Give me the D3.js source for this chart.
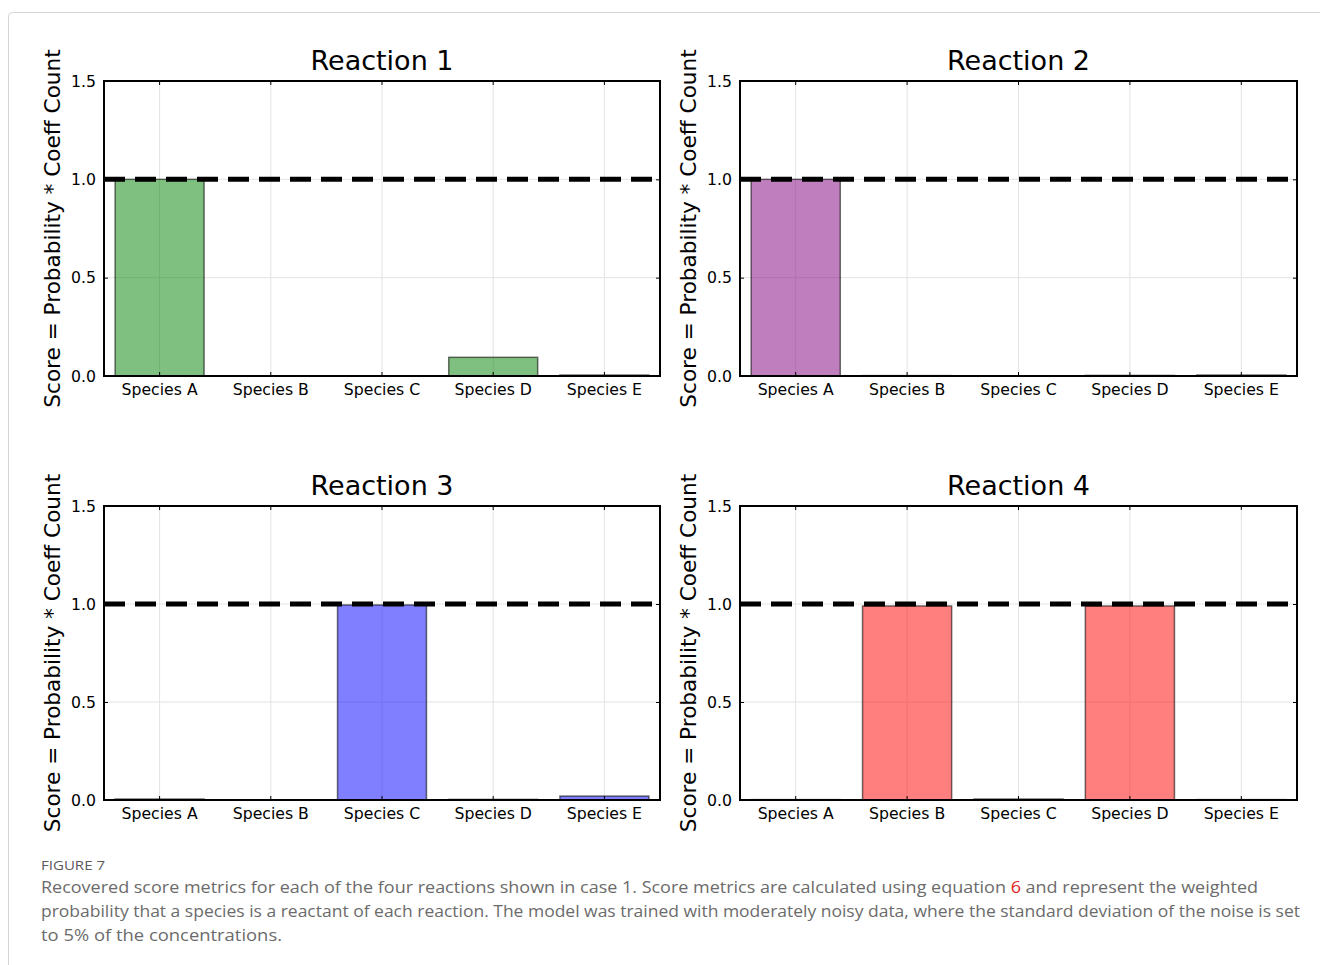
<!DOCTYPE html>
<meta charset="utf-8">
<script src="https://d3js.org/d3.v7.min.js"></script>
<style>
  body { margin: 0; background: #fff; }
</style>
<div id="figure"></div>
<script>
  // data
  var species = ["Species A", "Species B", "Species C", "Species D", "Species E"];
  var reactionNames = ["Reaction 1", "Reaction 2", "Reaction 3", "Reaction 4"];
  var reaction1 = [1.0, 0.0, 0.0, 0.095, 0.005];
  var reaction2 = [1.0, 0.002, 0.0, 0.003, 0.005];
  var reaction3 = [0.005, 0.0, 0.995, 0.003, 0.02];
  var reaction4 = [0.002, 0.99, 0.005, 0.99, 0.002];
  var barColors = ["#008000", "#800080", "#0000ff", "#ff0000"];
  var yTicks = [0.0, 0.5, 1.0, 1.5];
  var threshold = 1.0;
  var yLabel = "Score = Probability * Coeff Count";

  var allValues = [reaction1, reaction2, reaction3, reaction4];

  var W = 1320, H = 965;
  var svg = d3.select("#figure").append("svg")
    .attr("width", W)
    .attr("height", H)
    .style("font-family", "'DejaVu Sans', sans-serif");

  // page frame
  svg.append("rect")
    .attr("x", 8.5).attr("y", 12.5)
    .attr("width", W + 20).attr("height", H + 20)
    .attr("rx", 4)
    .style("fill", "none")
    .style("stroke", "#d4d4d4");

  // panel positions (left, top, width, height)
  var panels = [
    { x: 104, y: 81, w: 556, h: 295 },
    { x: 740, y: 81, w: 557, h: 295 },
    { x: 104, y: 506, w: 556, h: 294 },
    { x: 740, y: 506, w: 557, h: 294 }
  ];

  panels.forEach(function (p, i) {
    var g = svg.append("g")
      .attr("transform", "translate(" + p.x + "," + p.y + ")");

    var x = d3.scaleBand()
      .domain(species)
      .range([0, p.w])
      .paddingInner(0.2)
      .paddingOuter(0.1);
    var y = d3.scaleLinear()
      .domain([0, 1.5])
      .range([p.h, 0]);

    var centers = function (d) { return x(d) + x.bandwidth() / 2; };

    // grid
    g.append("g").selectAll("line.vgrid")
      .data(species).enter().append("line")
      .attr("x1", centers).attr("x2", centers)
      .attr("y1", 0).attr("y2", p.h)
      .style("stroke", "#e3e3e3").style("stroke-width", 1);
    g.append("g").selectAll("line.hgrid")
      .data(yTicks).enter().append("line")
      .attr("x1", 0).attr("x2", p.w)
      .attr("y1", function (d) { return y(d); })
      .attr("y2", function (d) { return y(d); })
      .style("stroke", "#e3e3e3").style("stroke-width", 1);

    // bars
    g.append("g").selectAll("rect")
      .data(allValues[i]).enter().append("rect")
      .attr("x", function (d, j) { return x(species[j]); })
      .attr("width", x.bandwidth())
      .attr("y", function (d) { return y(d); })
      .attr("height", function (d) { return p.h - y(d); })
      .style("fill", barColors[i])
      .style("fill-opacity", 0.5)
      .style("stroke", "#000")
      .style("stroke-opacity", 0.55)
      .style("stroke-width", 1.5);

    // threshold line
    g.append("line")
      .attr("x1", 0).attr("x2", p.w)
      .attr("y1", y(threshold)).attr("y2", y(threshold))
      .style("stroke", "#000")
      .style("stroke-width", 5)
      .style("stroke-dasharray", "21,10");

    // inward ticks on all four sides
    var tick = 4;
    var xB = g.append("g").attr("transform", "translate(0," + p.h + ")")
      .call(d3.axisBottom(x).tickSizeInner(-tick).tickSizeOuter(0).tickPadding(8));
    var xT = g.append("g")
      .call(d3.axisTop(x).tickSizeInner(-tick).tickSizeOuter(0).tickFormat(""));
    var yL = g.append("g")
      .call(d3.axisLeft(y).tickValues(yTicks).tickSizeInner(-tick).tickSizeOuter(0)
        .tickPadding(8).tickFormat(d3.format(".1f")));
    var yR = g.append("g").attr("transform", "translate(" + p.w + ",0)")
      .call(d3.axisRight(y).tickValues(yTicks).tickSizeInner(-tick).tickSizeOuter(0).tickFormat(""));

    [xB, xT, yL, yR].forEach(function (a) {
      a.select(".domain").remove();
      a.selectAll(".tick line").style("stroke", "#000").style("stroke-width", 1);
    });
    xB.selectAll("text")
      .style("font-family", "'DejaVu Sans', sans-serif")
      .style("font-size", "15.7px")
      .style("fill", "#000");
    yL.selectAll("text")
      .style("font-family", "'DejaVu Sans', sans-serif")
      .style("font-size", "15.7px")
      .style("fill", "#000");

    // frame
    g.append("rect")
      .attr("width", p.w).attr("height", p.h)
      .style("fill", "none")
      .style("stroke", "#000")
      .style("stroke-width", 2);

    // title
    g.append("text")
      .attr("x", p.w / 2).attr("y", -11)
      .attr("text-anchor", "middle")
      .style("font-size", "27px")
      .text(reactionNames[i]);

    // y label
    g.append("text")
      .attr("transform", "translate(" + (-44) + "," + (p.h / 2) + ") rotate(-90)")
      .attr("text-anchor", "middle")
      .style("font-size", "21.6px")
      .text(yLabel);
  });

  // caption
  var cap = svg.append("g").style("font-family", "'Open Sans', sans-serif");
  cap.append("text")
    .attr("x", 41).attr("y", 870)
    .attr("textLength", 64).attr("lengthAdjust", "spacingAndGlyphs")
    .style("font-size", "13.5px")
    .style("fill", "#5a5a5a")
    .text("FIGURE 7");

  var line1 = cap.append("text")
    .attr("x", 41).attr("y", 893)
    .attr("textLength", 1217).attr("lengthAdjust", "spacingAndGlyphs")
    .style("font-size", "17px").style("fill", "#6b6b6b");
  line1.append("tspan").text("Recovered score metrics for each of the four reactions shown in case 1. Score metrics are calculated using equation ");
  line1.append("tspan").style("fill", "#e2231a").text("6");
  line1.append("tspan").text(" and represent the weighted");

  cap.append("text")
    .attr("x", 41).attr("y", 917)
    .attr("textLength", 1259).attr("lengthAdjust", "spacingAndGlyphs")
    .style("font-size", "17px").style("fill", "#6b6b6b")
    .text("probability that a species is a reactant of each reaction. The model was trained with moderately noisy data, where the standard deviation of the noise is set");

  cap.append("text")
    .attr("x", 41).attr("y", 941)
    .attr("textLength", 241).attr("lengthAdjust", "spacingAndGlyphs")
    .style("font-size", "17px").style("fill", "#6b6b6b")
    .text("to 5% of the concentrations.");
</script>
